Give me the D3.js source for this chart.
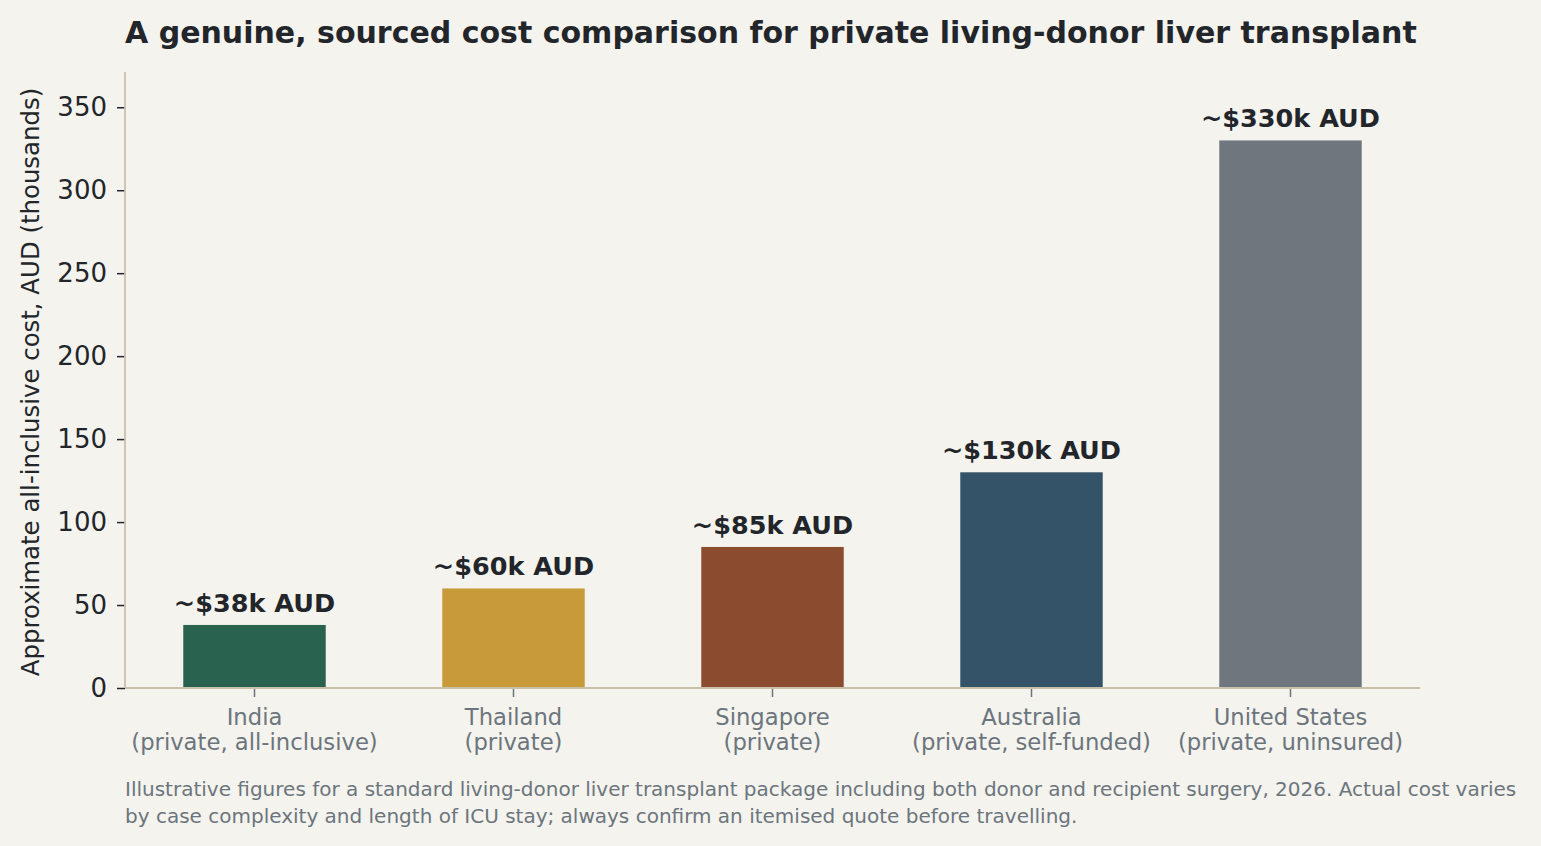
<!DOCTYPE html>
<html>
<head>
<meta charset="utf-8">
<script src="https://cdn.jsdelivr.net/npm/d3@7"></script>
<style>
  body { margin: 0; background: #f4f3ee; }
  svg { display: block; font-family: "DejaVu Sans", sans-serif; }
</style>
</head>
<body>
<div id="chart"></div>
<script>
const countries = ["India", "Thailand", "Singapore", "Australia", "United States"];
const subLabels = ["(private, all-inclusive)", "(private)", "(private)", "(private, self-funded)", "(private, uninsured)"];
const costs = [38, 60, 85, 130, 330];
const valueLabels = ["~$38k AUD", "~$60k AUD", "~$85k AUD", "~$130k AUD", "~$330k AUD"];
const barColors = ["#296350", "#c89a39", "#8a4b2f", "#345368", "#6f767e"];
const yTicks = [0, 50, 100, 150, 200, 250, 300, 350];

const titleText = "A genuine, sourced cost comparison for private living-donor liver transplant";
const yLabelText = "Approximate all-inclusive cost, AUD (thousands)";
const noteLines = [
  "Illustrative figures for a standard living-donor liver transplant package including both donor and recipient surgery, 2026. Actual cost varies",
  "by case complexity and length of ICU stay; always confirm an itemised quote before travelling."
];

const width = 1541;
const height = 846;
const margin = { top: 72, right: 121, bottom: 158, left: 125 };
const innerW = width - margin.left - margin.right;
const innerH = height - margin.top - margin.bottom;

const darkText = "#22252a";
const greyText = "#6c757d";
const spineColor = "#c9c0aa";

const svg = d3.select("#chart")
  .append("svg")
  .attr("width", width)
  .attr("height", height);

svg.append("rect")
  .attr("width", width)
  .attr("height", height)
  .attr("fill", "#f4f3ee");

const g = svg.append("g")
  .attr("transform", `translate(${margin.left},${margin.top})`);

const x = d3.scaleBand()
  .domain(countries)
  .range([0, innerW])
  .paddingInner(0.45)
  .paddingOuter(0.225);

const y = d3.scaleLinear()
  .domain([0, 330 * 1.125])
  .range([innerH, 0]);

// bars
g.selectAll(".bar")
  .data(countries)
  .enter()
  .append("rect")
  .attr("class", "bar")
  .attr("x", (d) => x(d))
  .attr("y", (d, i) => y(costs[i]))
  .attr("width", x.bandwidth())
  .attr("height", (d, i) => innerH - y(costs[i]))
  .attr("fill", (d, i) => barColors[i]);

// value labels
g.selectAll(".value-label")
  .data(countries)
  .enter()
  .append("text")
  .attr("class", "value-label")
  .attr("x", (d) => x(d) + x.bandwidth() / 2)
  .attr("y", (d, i) => y(costs[i]) - 13)
  .attr("text-anchor", "middle")
  .attr("font-size", "25.5px")
  .attr("font-weight", "bold")
  .attr("fill", darkText)
  .text((d, i) => valueLabels[i]);

// y axis
const yAxis = g.append("g")
  .call(d3.axisLeft(y).tickValues(yTicks).tickSize(8).tickPadding(10));
yAxis.select(".domain").remove();
yAxis.selectAll(".tick line").attr("stroke", darkText).attr("stroke-width", 1.5);
yAxis.selectAll(".tick text")
  .attr("font-size", "26px")
  .attr("fill", darkText)
  .attr("font-family", "DejaVu Sans, sans-serif");

// x axis
const xAxis = g.append("g")
  .attr("transform", `translate(0,${innerH})`)
  .call(d3.axisBottom(x).tickSize(9).tickFormat(""));
xAxis.select(".domain").remove();
xAxis.selectAll(".tick line").attr("stroke", greyText).attr("stroke-width", 1.5);
xAxis.selectAll(".tick").each(function (d, i) {
  const t = d3.select(this).append("text")
    .attr("text-anchor", "middle")
    .attr("font-size", "22.7px")
    .attr("fill", greyText)
    .attr("font-family", "DejaVu Sans, sans-serif");
  t.append("tspan").attr("x", 0).attr("y", 37).text(d);
  t.append("tspan").attr("x", 0).attr("y", 62).text(subLabels[i]);
});

// spines
g.append("line")
  .attr("x1", 0).attr("x2", 0)
  .attr("y1", 0).attr("y2", innerH)
  .attr("stroke", spineColor).attr("stroke-width", 1.8);
g.append("line")
  .attr("x1", 0).attr("x2", innerW)
  .attr("y1", innerH).attr("y2", innerH)
  .attr("stroke", spineColor).attr("stroke-width", 1.8);

// y label
svg.append("text")
  .attr("transform", `translate(39,${margin.top + innerH / 2 + 2}) rotate(-90)`)
  .attr("text-anchor", "middle")
  .attr("font-size", "24.4px")
  .attr("fill", darkText)
  .text(yLabelText);

// title
svg.append("text")
  .attr("x", margin.left)
  .attr("y", 43)
  .attr("font-size", "30px")
  .attr("font-weight", "bold")
  .attr("fill", darkText)
  .text(titleText);

// footnote
svg.selectAll(".note")
  .data(noteLines)
  .enter()
  .append("text")
  .attr("class", "note")
  .attr("x", margin.left)
  .attr("y", (d, i) => 796 + i * 27)
  .attr("font-size", "20px")
  .attr("fill", greyText)
  .text((d) => d);
</script>
</body>
</html>
